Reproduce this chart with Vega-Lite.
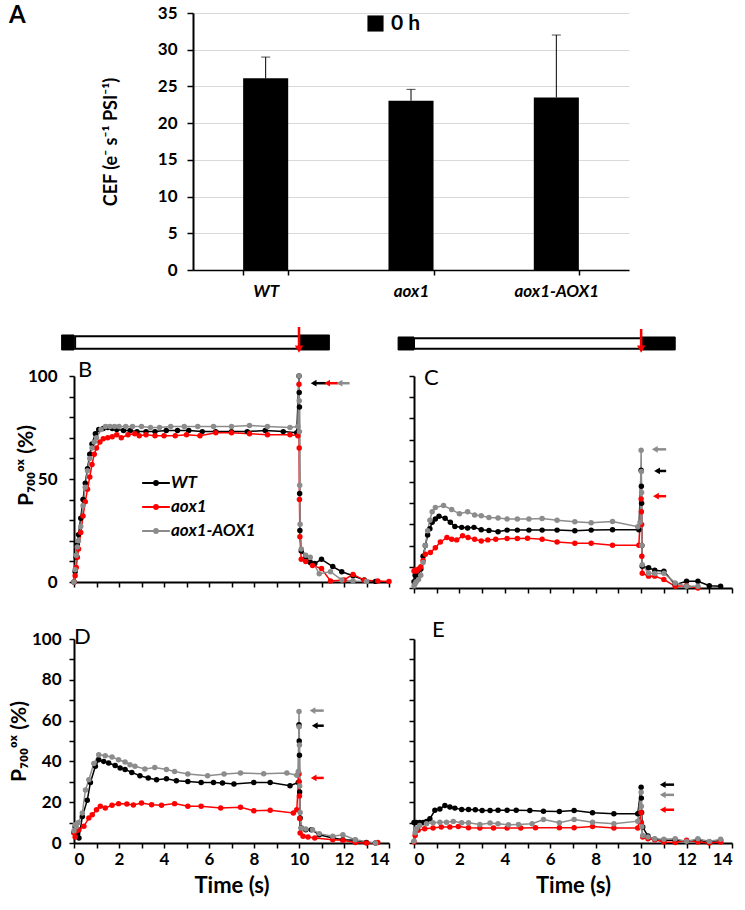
{
"$schema": "https://vega.github.io/schema/vega-lite/v6.json",
"padding": {"left": 8, "top": 4, "right": 5, "bottom": 5},
"background": "white",
"config": {
 "font": "Lato",
 "view": {"stroke": null},
 "axis": {"domainColor": "#000", "tickColor": "#000", "labelColor": "#000", "titleColor": "#000", "domainWidth": 2, "tickWidth": 1.5, "labelFont": "Lato", "titleFont": "Lato", "labelFontWeight": "bold", "titleFontWeight": "bold", "grid": false, "labelOverlap": false},
 "legend": {"labelFont": "Lato", "labelColor": "#000"},
 "title": {"font": "Lato", "color": "#000"}
},
"datasets": {
 "cef": [
  {"genotype": "WT", "cef": 26.1, "upper": 29.0, "time": "0 h"},
  {"genotype": "aox1", "cef": 23.05, "upper": 24.6, "time": "0 h"},
  {"genotype": "aox1-AOX1", "cef": 23.5, "upper": 32.0, "time": "0 h"}
 ],
 "stim": [
  {"panel": "B", "phase": "dark", "start": -0.55, "end": 0},
  {"panel": "B", "phase": "light", "start": 0.05, "end": 10},
  {"panel": "B", "phase": "dark", "start": 10, "end": 11.35},
  {"panel": "C", "phase": "dark", "start": -0.7, "end": 0},
  {"panel": "C", "phase": "light", "start": 0, "end": 10},
  {"panel": "C", "phase": "dark", "start": 10, "end": 11.5}
 ],
 "pulse": [{"panel": "B", "t": 10}, {"panel": "C", "t": 10}],
 "arrows": [
  {"panel": "B", "series": "WT", "t": 10.65, "t2": 11.2, "v": 96.5},
  {"panel": "B", "series": "aox1", "t": 11.25, "t2": 11.75, "v": 96.5},
  {"panel": "B", "series": "aox1-AOX1", "t": 11.8, "t2": 12.25, "v": 96.5},
  {"panel": "C", "series": "WT", "t": 10.7, "t2": 11.1, "v": 55.2},
  {"panel": "C", "series": "aox1", "t": 10.65, "t2": 11.1, "v": 43.3},
  {"panel": "C", "series": "aox1-AOX1", "t": 10.6, "t2": 11.1, "v": 65.4},
  {"panel": "D", "series": "WT", "t": 10.7, "t2": 11.1, "v": 57.5},
  {"panel": "D", "series": "aox1", "t": 10.65, "t2": 11.1, "v": 31.9},
  {"panel": "D", "series": "aox1-AOX1", "t": 10.6, "t2": 11.1, "v": 64.9},
  {"panel": "E", "series": "WT", "t": 10.95, "t2": 11.45, "v": 28.6},
  {"panel": "E", "series": "aox1", "t": 10.95, "t2": 11.45, "v": 16.3},
  {"panel": "E", "series": "aox1-AOX1", "t": 10.95, "t2": 11.45, "v": 23.6}
 ],
 "curves": [
  {"panel":"B","series":"WT","t":0,"v":0},{"panel":"B","series":"WT","t":0.05,"v":5},{"panel":"B","series":"WT","t":0.1,"v":12},{"panel":"B","series":"WT","t":0.15,"v":18},{"panel":"B","series":"WT","t":0.2,"v":23},{"panel":"B","series":"WT","t":0.3,"v":31},{"panel":"B","series":"WT","t":0.4,"v":40},{"panel":"B","series":"WT","t":0.5,"v":48},{"panel":"B","series":"WT","t":0.6,"v":55},{"panel":"B","series":"WT","t":0.7,"v":62},{"panel":"B","series":"WT","t":0.8,"v":67},{"panel":"B","series":"WT","t":0.95,"v":72},{"panel":"B","series":"WT","t":1.1,"v":74},{"panel":"B","series":"WT","t":1.3,"v":74.5},{"panel":"B","series":"WT","t":1.5,"v":75},{"panel":"B","series":"WT","t":1.7,"v":74.5},{"panel":"B","series":"WT","t":1.9,"v":74},{"panel":"B","series":"WT","t":2.2,"v":73.5},{"panel":"B","series":"WT","t":2.5,"v":73.5},{"panel":"B","series":"WT","t":2.8,"v":73},{"panel":"B","series":"WT","t":3.2,"v":73},{"panel":"B","series":"WT","t":3.6,"v":73},{"panel":"B","series":"WT","t":4.1,"v":73.5},{"panel":"B","series":"WT","t":4.6,"v":73.5},{"panel":"B","series":"WT","t":5.1,"v":73.5},{"panel":"B","series":"WT","t":5.7,"v":73},{"panel":"B","series":"WT","t":6.3,"v":73},{"panel":"B","series":"WT","t":7.0,"v":73},{"panel":"B","series":"WT","t":7.7,"v":73},{"panel":"B","series":"WT","t":8.5,"v":73.5},{"panel":"B","series":"WT","t":9.3,"v":73},{"panel":"B","series":"WT","t":9.9,"v":72.5},{"panel":"B","series":"WT","t":10.0,"v":100},{"panel":"B","series":"WT","t":10.01,"v":92},{"panel":"B","series":"WT","t":10.02,"v":85},{"panel":"B","series":"WT","t":10.03,"v":43},{"panel":"B","series":"WT","t":10.04,"v":25},{"panel":"B","series":"WT","t":10.1,"v":15},{"panel":"B","series":"WT","t":10.3,"v":12},{"panel":"B","series":"WT","t":10.5,"v":9.5},{"panel":"B","series":"WT","t":10.7,"v":9},{"panel":"B","series":"WT","t":11.0,"v":11},{"panel":"B","series":"WT","t":11.5,"v":7.5},{"panel":"B","series":"WT","t":11.9,"v":5},{"panel":"B","series":"WT","t":12.4,"v":3},{"panel":"B","series":"WT","t":12.9,"v":1},{"panel":"B","series":"WT","t":13.4,"v":0.3},
  {"panel":"B","series":"aox1","t":0,"v":0},{"panel":"B","series":"aox1","t":0.05,"v":3},{"panel":"B","series":"aox1","t":0.1,"v":7},{"panel":"B","series":"aox1","t":0.15,"v":12},{"panel":"B","series":"aox1","t":0.2,"v":16},{"panel":"B","series":"aox1","t":0.3,"v":24},{"panel":"B","series":"aox1","t":0.4,"v":32},{"panel":"B","series":"aox1","t":0.5,"v":39},{"panel":"B","series":"aox1","t":0.6,"v":45},{"panel":"B","series":"aox1","t":0.7,"v":51},{"panel":"B","series":"aox1","t":0.8,"v":57},{"panel":"B","series":"aox1","t":0.9,"v":62},{"panel":"B","series":"aox1","t":1.0,"v":65},{"panel":"B","series":"aox1","t":1.15,"v":68},{"panel":"B","series":"aox1","t":1.3,"v":69.5},{"panel":"B","series":"aox1","t":1.5,"v":70},{"panel":"B","series":"aox1","t":1.7,"v":70.5},{"panel":"B","series":"aox1","t":1.9,"v":71.5},{"panel":"B","series":"aox1","t":2.1,"v":70},{"panel":"B","series":"aox1","t":2.4,"v":71.5},{"panel":"B","series":"aox1","t":2.7,"v":72},{"panel":"B","series":"aox1","t":2.9,"v":71},{"panel":"B","series":"aox1","t":3.2,"v":71.5},{"panel":"B","series":"aox1","t":3.6,"v":71},{"panel":"B","series":"aox1","t":4.0,"v":71},{"panel":"B","series":"aox1","t":4.5,"v":71},{"panel":"B","series":"aox1","t":5.0,"v":71.5},{"panel":"B","series":"aox1","t":5.6,"v":71},{"panel":"B","series":"aox1","t":6.3,"v":72.5},{"panel":"B","series":"aox1","t":7.0,"v":72.5},{"panel":"B","series":"aox1","t":7.8,"v":72},{"panel":"B","series":"aox1","t":8.6,"v":71.5},{"panel":"B","series":"aox1","t":9.6,"v":71.5},{"panel":"B","series":"aox1","t":9.95,"v":71},{"panel":"B","series":"aox1","t":10.0,"v":96},{"panel":"B","series":"aox1","t":10.01,"v":65},{"panel":"B","series":"aox1","t":10.02,"v":40},{"panel":"B","series":"aox1","t":10.04,"v":22},{"panel":"B","series":"aox1","t":10.1,"v":11},{"panel":"B","series":"aox1","t":10.3,"v":10},{"panel":"B","series":"aox1","t":10.6,"v":8},{"panel":"B","series":"aox1","t":11.0,"v":6.5},{"panel":"B","series":"aox1","t":11.4,"v":0.5},{"panel":"B","series":"aox1","t":12.0,"v":1},{"panel":"B","series":"aox1","t":12.4,"v":3.7},{"panel":"B","series":"aox1","t":12.9,"v":0.8},{"panel":"B","series":"aox1","t":13.5,"v":0.5},{"panel":"B","series":"aox1","t":14.0,"v":0.3},
  {"panel":"B","series":"aox1-AOX1","t":0,"v":0},{"panel":"B","series":"aox1-AOX1","t":0.05,"v":6},{"panel":"B","series":"aox1-AOX1","t":0.1,"v":13},{"panel":"B","series":"aox1-AOX1","t":0.15,"v":17},{"panel":"B","series":"aox1-AOX1","t":0.2,"v":20},{"panel":"B","series":"aox1-AOX1","t":0.3,"v":27},{"panel":"B","series":"aox1-AOX1","t":0.4,"v":37},{"panel":"B","series":"aox1-AOX1","t":0.5,"v":46},{"panel":"B","series":"aox1-AOX1","t":0.6,"v":54},{"panel":"B","series":"aox1-AOX1","t":0.7,"v":60},{"panel":"B","series":"aox1-AOX1","t":0.8,"v":65},{"panel":"B","series":"aox1-AOX1","t":0.9,"v":68},{"panel":"B","series":"aox1-AOX1","t":1.0,"v":70},{"panel":"B","series":"aox1-AOX1","t":1.2,"v":74},{"panel":"B","series":"aox1-AOX1","t":1.4,"v":75.5},{"panel":"B","series":"aox1-AOX1","t":1.6,"v":75.5},{"panel":"B","series":"aox1-AOX1","t":1.8,"v":75.5},{"panel":"B","series":"aox1-AOX1","t":2.0,"v":75.5},{"panel":"B","series":"aox1-AOX1","t":2.3,"v":75.5},{"panel":"B","series":"aox1-AOX1","t":2.6,"v":75.5},{"panel":"B","series":"aox1-AOX1","t":3.0,"v":75.5},{"panel":"B","series":"aox1-AOX1","t":3.4,"v":75},{"panel":"B","series":"aox1-AOX1","t":3.8,"v":75},{"panel":"B","series":"aox1-AOX1","t":4.3,"v":75.5},{"panel":"B","series":"aox1-AOX1","t":4.9,"v":75.5},{"panel":"B","series":"aox1-AOX1","t":5.5,"v":75.5},{"panel":"B","series":"aox1-AOX1","t":6.2,"v":75.5},{"panel":"B","series":"aox1-AOX1","t":7.0,"v":75.5},{"panel":"B","series":"aox1-AOX1","t":7.8,"v":76},{"panel":"B","series":"aox1-AOX1","t":8.6,"v":75.5},{"panel":"B","series":"aox1-AOX1","t":9.6,"v":75},{"panel":"B","series":"aox1-AOX1","t":9.95,"v":75.5},{"panel":"B","series":"aox1-AOX1","t":10.0,"v":100},{"panel":"B","series":"aox1-AOX1","t":10.01,"v":88},{"panel":"B","series":"aox1-AOX1","t":10.02,"v":73},{"panel":"B","series":"aox1-AOX1","t":10.03,"v":47},{"panel":"B","series":"aox1-AOX1","t":10.05,"v":28},{"panel":"B","series":"aox1-AOX1","t":10.1,"v":16},{"panel":"B","series":"aox1-AOX1","t":10.3,"v":13},{"panel":"B","series":"aox1-AOX1","t":10.5,"v":12},{"panel":"B","series":"aox1-AOX1","t":10.9,"v":4},{"panel":"B","series":"aox1-AOX1","t":11.4,"v":5},{"panel":"B","series":"aox1-AOX1","t":11.9,"v":1},{"panel":"B","series":"aox1-AOX1","t":12.4,"v":0.5},{"panel":"B","series":"aox1-AOX1","t":13.0,"v":0.3},
  {"panel":"C","series":"WT","t":0,"v":3},{"panel":"C","series":"WT","t":0.05,"v":6},{"panel":"C","series":"WT","t":0.1,"v":4},{"panel":"C","series":"WT","t":0.2,"v":6},{"panel":"C","series":"WT","t":0.3,"v":9},{"panel":"C","series":"WT","t":0.4,"v":15},{"panel":"C","series":"WT","t":0.5,"v":20},{"panel":"C","series":"WT","t":0.6,"v":25},{"panel":"C","series":"WT","t":0.7,"v":28},{"panel":"C","series":"WT","t":0.8,"v":31},{"panel":"C","series":"WT","t":0.94,"v":32.5},{"panel":"C","series":"WT","t":1.1,"v":33.8},{"panel":"C","series":"WT","t":1.37,"v":32.9},{"panel":"C","series":"WT","t":1.6,"v":31},{"panel":"C","series":"WT","t":1.8,"v":29},{"panel":"C","series":"WT","t":2.1,"v":28.6},{"panel":"C","series":"WT","t":2.36,"v":28.3},{"panel":"C","series":"WT","t":2.64,"v":28.6},{"panel":"C","series":"WT","t":2.96,"v":27.5},{"panel":"C","series":"WT","t":3.3,"v":27.1},{"panel":"C","series":"WT","t":3.7,"v":26.5},{"panel":"C","series":"WT","t":4.1,"v":27.3},{"panel":"C","series":"WT","t":4.55,"v":27.3},{"panel":"C","series":"WT","t":5.06,"v":27.3},{"panel":"C","series":"WT","t":5.64,"v":27.3},{"panel":"C","series":"WT","t":6.3,"v":27.3},{"panel":"C","series":"WT","t":7.08,"v":27},{"panel":"C","series":"WT","t":7.8,"v":27.3},{"panel":"C","series":"WT","t":8.74,"v":27.5},{"panel":"C","series":"WT","t":9.9,"v":27.5},{"panel":"C","series":"WT","t":10.0,"v":55.5},{"panel":"C","series":"WT","t":10.01,"v":48},{"panel":"C","series":"WT","t":10.02,"v":40},{"panel":"C","series":"WT","t":10.03,"v":20},{"panel":"C","series":"WT","t":10.05,"v":10.3},{"panel":"C","series":"WT","t":10.33,"v":9.5},{"panel":"C","series":"WT","t":10.6,"v":8.4},{"panel":"C","series":"WT","t":11.0,"v":7.9},{"panel":"C","series":"WT","t":11.5,"v":1.6},{"panel":"C","series":"WT","t":12.0,"v":3.2},{"panel":"C","series":"WT","t":12.5,"v":3.2},{"panel":"C","series":"WT","t":13.0,"v":1.1},{"panel":"C","series":"WT","t":13.5,"v":0.8},
  {"panel":"C","series":"aox1","t":0,"v":8},{"panel":"C","series":"aox1","t":0.05,"v":8.5},{"panel":"C","series":"aox1","t":0.1,"v":8},{"panel":"C","series":"aox1","t":0.2,"v":9},{"panel":"C","series":"aox1","t":0.3,"v":10},{"panel":"C","series":"aox1","t":0.4,"v":13},{"panel":"C","series":"aox1","t":0.5,"v":15.9},{"panel":"C","series":"aox1","t":0.72,"v":16.7},{"panel":"C","series":"aox1","t":0.94,"v":19},{"panel":"C","series":"aox1","t":1.16,"v":21.7},{"panel":"C","series":"aox1","t":1.45,"v":23.8},{"panel":"C","series":"aox1","t":1.66,"v":23},{"panel":"C","series":"aox1","t":1.88,"v":22.7},{"panel":"C","series":"aox1","t":2.14,"v":24.6},{"panel":"C","series":"aox1","t":2.38,"v":23.8},{"panel":"C","series":"aox1","t":2.67,"v":23},{"panel":"C","series":"aox1","t":2.96,"v":22.2},{"panel":"C","series":"aox1","t":3.25,"v":22.7},{"panel":"C","series":"aox1","t":3.6,"v":23},{"panel":"C","series":"aox1","t":4.1,"v":23.3},{"panel":"C","series":"aox1","t":4.55,"v":23.3},{"panel":"C","series":"aox1","t":5.0,"v":23.5},{"panel":"C","series":"aox1","t":5.64,"v":23},{"panel":"C","series":"aox1","t":6.3,"v":21.7},{"panel":"C","series":"aox1","t":7.08,"v":21.1},{"panel":"C","series":"aox1","t":7.8,"v":21.1},{"panel":"C","series":"aox1","t":8.74,"v":20.2},{"panel":"C","series":"aox1","t":9.9,"v":20.2},{"panel":"C","series":"aox1","t":10.0,"v":42},{"panel":"C","series":"aox1","t":10.01,"v":36},{"panel":"C","series":"aox1","t":10.02,"v":30},{"panel":"C","series":"aox1","t":10.03,"v":15},{"panel":"C","series":"aox1","t":10.05,"v":7},{"panel":"C","series":"aox1","t":10.33,"v":5.6},{"panel":"C","series":"aox1","t":10.6,"v":5.6},{"panel":"C","series":"aox1","t":11.0,"v":4},{"panel":"C","series":"aox1","t":11.5,"v":0.8},{"panel":"C","series":"aox1","t":12.0,"v":1.1},{"panel":"C","series":"aox1","t":12.5,"v":0},
  {"panel":"C","series":"aox1-AOX1","t":0,"v":1},{"panel":"C","series":"aox1-AOX1","t":0.05,"v":2},{"panel":"C","series":"aox1-AOX1","t":0.1,"v":3},{"panel":"C","series":"aox1-AOX1","t":0.2,"v":4},{"panel":"C","series":"aox1-AOX1","t":0.3,"v":6},{"panel":"C","series":"aox1-AOX1","t":0.4,"v":12},{"panel":"C","series":"aox1-AOX1","t":0.5,"v":20},{"panel":"C","series":"aox1-AOX1","t":0.6,"v":27},{"panel":"C","series":"aox1-AOX1","t":0.7,"v":32},{"panel":"C","series":"aox1-AOX1","t":0.8,"v":36},{"panel":"C","series":"aox1-AOX1","t":0.94,"v":38},{"panel":"C","series":"aox1-AOX1","t":1.3,"v":38.9},{"panel":"C","series":"aox1-AOX1","t":1.66,"v":37},{"panel":"C","series":"aox1-AOX1","t":2.0,"v":35},{"panel":"C","series":"aox1-AOX1","t":2.36,"v":36},{"panel":"C","series":"aox1-AOX1","t":2.67,"v":34.4},{"panel":"C","series":"aox1-AOX1","t":2.96,"v":34.1},{"panel":"C","series":"aox1-AOX1","t":3.3,"v":33.3},{"panel":"C","series":"aox1-AOX1","t":3.7,"v":33},{"panel":"C","series":"aox1-AOX1","t":4.1,"v":32.5},{"panel":"C","series":"aox1-AOX1","t":4.55,"v":32.5},{"panel":"C","series":"aox1-AOX1","t":5.06,"v":32.5},{"panel":"C","series":"aox1-AOX1","t":5.64,"v":32.8},{"panel":"C","series":"aox1-AOX1","t":6.3,"v":32},{"panel":"C","series":"aox1-AOX1","t":7.08,"v":31.3},{"panel":"C","series":"aox1-AOX1","t":7.8,"v":30.8},{"panel":"C","series":"aox1-AOX1","t":8.74,"v":31.4},{"panel":"C","series":"aox1-AOX1","t":9.85,"v":28.9},{"panel":"C","series":"aox1-AOX1","t":9.95,"v":31},{"panel":"C","series":"aox1-AOX1","t":10.0,"v":65},{"panel":"C","series":"aox1-AOX1","t":10.01,"v":55},{"panel":"C","series":"aox1-AOX1","t":10.02,"v":45},{"panel":"C","series":"aox1-AOX1","t":10.03,"v":20},{"panel":"C","series":"aox1-AOX1","t":10.05,"v":11},{"panel":"C","series":"aox1-AOX1","t":10.33,"v":7},{"panel":"C","series":"aox1-AOX1","t":10.6,"v":6.8},{"panel":"C","series":"aox1-AOX1","t":11.0,"v":7},{"panel":"C","series":"aox1-AOX1","t":11.5,"v":2.4},{"panel":"C","series":"aox1-AOX1","t":12.0,"v":0.8},{"panel":"C","series":"aox1-AOX1","t":12.5,"v":0.8},
  {"panel":"D","series":"WT","t":0,"v":5},{"panel":"D","series":"WT","t":0.05,"v":8},{"panel":"D","series":"WT","t":0.1,"v":6},{"panel":"D","series":"WT","t":0.15,"v":4},{"panel":"D","series":"WT","t":0.22,"v":2.5},{"panel":"D","series":"WT","t":0.37,"v":13},{"panel":"D","series":"WT","t":0.59,"v":21},{"panel":"D","series":"WT","t":0.73,"v":29.7},{"panel":"D","series":"WT","t":0.95,"v":37.6},{"panel":"D","series":"WT","t":1.1,"v":40.8},{"panel":"D","series":"WT","t":1.32,"v":40},{"panel":"D","series":"WT","t":1.54,"v":39.2},{"panel":"D","series":"WT","t":1.83,"v":38},{"panel":"D","series":"WT","t":2.05,"v":36.8},{"panel":"D","series":"WT","t":2.27,"v":36},{"panel":"D","series":"WT","t":2.57,"v":34.6},{"panel":"D","series":"WT","t":2.93,"v":33},{"panel":"D","series":"WT","t":3.3,"v":31.9},{"panel":"D","series":"WT","t":3.67,"v":31},{"panel":"D","series":"WT","t":4.11,"v":31.5},{"panel":"D","series":"WT","t":4.55,"v":30.5},{"panel":"D","series":"WT","t":5.06,"v":30.2},{"panel":"D","series":"WT","t":5.65,"v":29.7},{"panel":"D","series":"WT","t":6.2,"v":29.7},{"panel":"D","series":"WT","t":6.6,"v":29.4},{"panel":"D","series":"WT","t":7.11,"v":28.9},{"panel":"D","series":"WT","t":7.99,"v":29.7},{"panel":"D","series":"WT","t":8.72,"v":29.7},{"panel":"D","series":"WT","t":9.6,"v":28.1},{"panel":"D","series":"WT","t":9.97,"v":29.7},{"panel":"D","series":"WT","t":10.0,"v":58},{"panel":"D","series":"WT","t":10.01,"v":50},{"panel":"D","series":"WT","t":10.02,"v":43},{"panel":"D","series":"WT","t":10.03,"v":25},{"panel":"D","series":"WT","t":10.05,"v":12.3},{"panel":"D","series":"WT","t":10.1,"v":7.4},{"panel":"D","series":"WT","t":10.3,"v":6.5},{"panel":"D","series":"WT","t":10.55,"v":6.5},{"panel":"D","series":"WT","t":10.9,"v":4},{"panel":"D","series":"WT","t":11.5,"v":2.5},{"panel":"D","series":"WT","t":11.95,"v":1.6},{"panel":"D","series":"WT","t":12.5,"v":1.3},{"panel":"D","series":"WT","t":13.0,"v":0.3},{"panel":"D","series":"WT","t":13.4,"v":0},
  {"panel":"D","series":"aox1","t":0,"v":5},{"panel":"D","series":"aox1","t":0.05,"v":3},{"panel":"D","series":"aox1","t":0.1,"v":6},{"panel":"D","series":"aox1","t":0.22,"v":6.5},{"panel":"D","series":"aox1","t":0.44,"v":8.2},{"panel":"D","series":"aox1","t":0.66,"v":12.3},{"panel":"D","series":"aox1","t":0.81,"v":13.9},{"panel":"D","series":"aox1","t":1.0,"v":16.3},{"panel":"D","series":"aox1","t":1.17,"v":18},{"panel":"D","series":"aox1","t":1.39,"v":17.2},{"panel":"D","series":"aox1","t":1.69,"v":18.5},{"panel":"D","series":"aox1","t":1.98,"v":19.3},{"panel":"D","series":"aox1","t":2.35,"v":19.1},{"panel":"D","series":"aox1","t":2.64,"v":18.6},{"panel":"D","series":"aox1","t":3.0,"v":19.6},{"panel":"D","series":"aox1","t":3.45,"v":18.8},{"panel":"D","series":"aox1","t":3.89,"v":18.5},{"panel":"D","series":"aox1","t":4.47,"v":19.3},{"panel":"D","series":"aox1","t":5.06,"v":18},{"panel":"D","series":"aox1","t":5.65,"v":18},{"panel":"D","series":"aox1","t":6.52,"v":17.2},{"panel":"D","series":"aox1","t":7.4,"v":17.5},{"panel":"D","series":"aox1","t":7.99,"v":15.8},{"panel":"D","series":"aox1","t":8.72,"v":16},{"panel":"D","series":"aox1","t":9.75,"v":14.7},{"panel":"D","series":"aox1","t":9.9,"v":16.3},{"panel":"D","series":"aox1","t":10.0,"v":34},{"panel":"D","series":"aox1","t":10.01,"v":30},{"panel":"D","series":"aox1","t":10.02,"v":23},{"panel":"D","series":"aox1","t":10.03,"v":12},{"panel":"D","series":"aox1","t":10.05,"v":4.9},{"panel":"D","series":"aox1","t":10.18,"v":3.3},{"panel":"D","series":"aox1","t":10.4,"v":2.9},{"panel":"D","series":"aox1","t":10.7,"v":2.5},{"panel":"D","series":"aox1","t":11.5,"v":1.6},{"panel":"D","series":"aox1","t":11.95,"v":1.3},{"panel":"D","series":"aox1","t":12.5,"v":0.3},{"panel":"D","series":"aox1","t":13.0,"v":0},{"panel":"D","series":"aox1","t":13.5,"v":0.3},
  {"panel":"D","series":"aox1-AOX1","t":0,"v":6},{"panel":"D","series":"aox1-AOX1","t":0.05,"v":9},{"panel":"D","series":"aox1-AOX1","t":0.1,"v":8},{"panel":"D","series":"aox1-AOX1","t":0.2,"v":10},{"panel":"D","series":"aox1-AOX1","t":0.37,"v":14.7},{"panel":"D","series":"aox1-AOX1","t":0.51,"v":26},{"panel":"D","series":"aox1-AOX1","t":0.66,"v":31},{"panel":"D","series":"aox1-AOX1","t":0.88,"v":39},{"panel":"D","series":"aox1-AOX1","t":1.1,"v":43.3},{"panel":"D","series":"aox1-AOX1","t":1.39,"v":42.8},{"panel":"D","series":"aox1-AOX1","t":1.69,"v":42.2},{"panel":"D","series":"aox1-AOX1","t":1.98,"v":40.8},{"panel":"D","series":"aox1-AOX1","t":2.27,"v":39.7},{"panel":"D","series":"aox1-AOX1","t":2.49,"v":38.4},{"panel":"D","series":"aox1-AOX1","t":2.71,"v":37.6},{"panel":"D","series":"aox1-AOX1","t":3.15,"v":36.3},{"panel":"D","series":"aox1-AOX1","t":3.59,"v":37},{"panel":"D","series":"aox1-AOX1","t":4.11,"v":36},{"panel":"D","series":"aox1-AOX1","t":4.47,"v":35},{"panel":"D","series":"aox1-AOX1","t":5.06,"v":33.8},{"panel":"D","series":"aox1-AOX1","t":5.94,"v":33},{"panel":"D","series":"aox1-AOX1","t":6.67,"v":33.8},{"panel":"D","series":"aox1-AOX1","t":7.4,"v":34.3},{"panel":"D","series":"aox1-AOX1","t":8.43,"v":34},{"panel":"D","series":"aox1-AOX1","t":9.46,"v":34.3},{"panel":"D","series":"aox1-AOX1","t":9.9,"v":33.2},{"panel":"D","series":"aox1-AOX1","t":9.97,"v":35},{"panel":"D","series":"aox1-AOX1","t":10.0,"v":64.5},{"panel":"D","series":"aox1-AOX1","t":10.01,"v":57},{"panel":"D","series":"aox1-AOX1","t":10.02,"v":48},{"panel":"D","series":"aox1-AOX1","t":10.03,"v":28},{"panel":"D","series":"aox1-AOX1","t":10.05,"v":15},{"panel":"D","series":"aox1-AOX1","t":10.1,"v":7.4},{"panel":"D","series":"aox1-AOX1","t":10.3,"v":6.9},{"panel":"D","series":"aox1-AOX1","t":10.6,"v":6.5},{"panel":"D","series":"aox1-AOX1","t":10.9,"v":4.6},{"panel":"D","series":"aox1-AOX1","t":11.5,"v":3.3},{"panel":"D","series":"aox1-AOX1","t":11.95,"v":4},{"panel":"D","series":"aox1-AOX1","t":12.5,"v":1.6},{"panel":"D","series":"aox1-AOX1","t":13.4,"v":0},
  {"panel":"E","series":"WT","t":0,"v":10},{"panel":"E","series":"WT","t":0.1,"v":10},{"panel":"E","series":"WT","t":0.25,"v":10},{"panel":"E","series":"WT","t":0.4,"v":10},{"panel":"E","series":"WT","t":0.55,"v":10.5},{"panel":"E","series":"WT","t":0.7,"v":11.9},{"panel":"E","series":"WT","t":0.92,"v":16},{"panel":"E","series":"WT","t":1.14,"v":16.7},{"panel":"E","series":"WT","t":1.36,"v":18.4},{"panel":"E","series":"WT","t":1.58,"v":17.6},{"panel":"E","series":"WT","t":1.8,"v":17.1},{"panel":"E","series":"WT","t":2.1,"v":16.4},{"panel":"E","series":"WT","t":2.4,"v":16.4},{"panel":"E","series":"WT","t":2.7,"v":16.3},{"panel":"E","series":"WT","t":3.0,"v":15.9},{"panel":"E","series":"WT","t":3.35,"v":15.9},{"panel":"E","series":"WT","t":3.7,"v":16},{"panel":"E","series":"WT","t":4.1,"v":16.1},{"panel":"E","series":"WT","t":4.5,"v":16.1},{"panel":"E","series":"WT","t":5.1,"v":15.9},{"panel":"E","series":"WT","t":5.7,"v":15.6},{"panel":"E","series":"WT","t":6.4,"v":15.4},{"panel":"E","series":"WT","t":7.05,"v":15.9},{"panel":"E","series":"WT","t":7.86,"v":14.8},{"panel":"E","series":"WT","t":8.8,"v":14.3},{"panel":"E","series":"WT","t":9.85,"v":14.3},{"panel":"E","series":"WT","t":10.0,"v":27.3},{"panel":"E","series":"WT","t":10.01,"v":22},{"panel":"E","series":"WT","t":10.02,"v":15},{"panel":"E","series":"WT","t":10.07,"v":7.8},{"panel":"E","series":"WT","t":10.3,"v":3.4},{"panel":"E","series":"WT","t":10.6,"v":1.8},{"panel":"E","series":"WT","t":11.0,"v":1.3},{"panel":"E","series":"WT","t":11.5,"v":1.3},{"panel":"E","series":"WT","t":12.0,"v":0.8},{"panel":"E","series":"WT","t":12.5,"v":1.3},{"panel":"E","series":"WT","t":13.0,"v":0.5},{"panel":"E","series":"WT","t":13.5,"v":1.3},
  {"panel":"E","series":"aox1","t":0,"v":0.5},{"panel":"E","series":"aox1","t":0.05,"v":3.7},{"panel":"E","series":"aox1","t":0.18,"v":6.2},{"panel":"E","series":"aox1","t":0.47,"v":7},{"panel":"E","series":"aox1","t":0.84,"v":7.3},{"panel":"E","series":"aox1","t":1.2,"v":7.8},{"panel":"E","series":"aox1","t":1.58,"v":7.8},{"panel":"E","series":"aox1","t":1.95,"v":8.1},{"panel":"E","series":"aox1","t":2.4,"v":7.5},{"panel":"E","series":"aox1","t":2.9,"v":7.3},{"panel":"E","series":"aox1","t":3.5,"v":7.3},{"panel":"E","series":"aox1","t":4.1,"v":7.3},{"panel":"E","series":"aox1","t":4.7,"v":7.3},{"panel":"E","series":"aox1","t":5.35,"v":7.5},{"panel":"E","series":"aox1","t":6.4,"v":7.5},{"panel":"E","series":"aox1","t":7.05,"v":7.5},{"panel":"E","series":"aox1","t":7.86,"v":8.1},{"panel":"E","series":"aox1","t":8.8,"v":7.3},{"panel":"E","series":"aox1","t":9.85,"v":7.3},{"panel":"E","series":"aox1","t":10.0,"v":15},{"panel":"E","series":"aox1","t":10.01,"v":10},{"panel":"E","series":"aox1","t":10.07,"v":2.9},{"panel":"E","series":"aox1","t":10.3,"v":2.1},{"panel":"E","series":"aox1","t":10.6,"v":1.6},{"panel":"E","series":"aox1","t":11.0,"v":0.5},{"panel":"E","series":"aox1","t":11.5,"v":0.2},{"panel":"E","series":"aox1","t":12.0,"v":1.3},{"panel":"E","series":"aox1","t":12.5,"v":0.5},{"panel":"E","series":"aox1","t":13.0,"v":0},{"panel":"E","series":"aox1","t":13.5,"v":0.5},
  {"panel":"E","series":"aox1-AOX1","t":0,"v":1},{"panel":"E","series":"aox1-AOX1","t":0.05,"v":5},{"panel":"E","series":"aox1-AOX1","t":0.1,"v":7},{"panel":"E","series":"aox1-AOX1","t":0.25,"v":8.6},{"panel":"E","series":"aox1-AOX1","t":0.55,"v":9.4},{"panel":"E","series":"aox1-AOX1","t":0.84,"v":9.9},{"panel":"E","series":"aox1-AOX1","t":1.14,"v":10.2},{"panel":"E","series":"aox1-AOX1","t":1.43,"v":10.2},{"panel":"E","series":"aox1-AOX1","t":1.73,"v":10.6},{"panel":"E","series":"aox1-AOX1","t":2.1,"v":9.9},{"panel":"E","series":"aox1-AOX1","t":2.4,"v":9.9},{"panel":"E","series":"aox1-AOX1","t":2.9,"v":9.1},{"panel":"E","series":"aox1-AOX1","t":3.35,"v":9.8},{"panel":"E","series":"aox1-AOX1","t":3.7,"v":9.4},{"panel":"E","series":"aox1-AOX1","t":4.16,"v":8.9},{"panel":"E","series":"aox1-AOX1","t":4.6,"v":9.1},{"panel":"E","series":"aox1-AOX1","t":5.2,"v":9.4},{"panel":"E","series":"aox1-AOX1","t":5.7,"v":11.5},{"panel":"E","series":"aox1-AOX1","t":6.4,"v":9.9},{"panel":"E","series":"aox1-AOX1","t":7.05,"v":11.5},{"panel":"E","series":"aox1-AOX1","t":7.86,"v":10.2},{"panel":"E","series":"aox1-AOX1","t":8.8,"v":9.4},{"panel":"E","series":"aox1-AOX1","t":9.85,"v":10.7},{"panel":"E","series":"aox1-AOX1","t":10.0,"v":24.9},{"panel":"E","series":"aox1-AOX1","t":10.01,"v":18},{"panel":"E","series":"aox1-AOX1","t":10.03,"v":8},{"panel":"E","series":"aox1-AOX1","t":10.07,"v":3.7},{"panel":"E","series":"aox1-AOX1","t":10.3,"v":2.9},{"panel":"E","series":"aox1-AOX1","t":10.6,"v":2.1},{"panel":"E","series":"aox1-AOX1","t":11.0,"v":1.8},{"panel":"E","series":"aox1-AOX1","t":11.5,"v":2.1},{"panel":"E","series":"aox1-AOX1","t":12.0,"v":0.8},{"panel":"E","series":"aox1-AOX1","t":12.5,"v":2.1},{"panel":"E","series":"aox1-AOX1","t":13.0,"v":0.8},{"panel":"E","series":"aox1-AOX1","t":13.5,"v":1.8}
 ]
},
"spacing": 26,
"resolve": {"scale": {"color": "independent"}, "legend": {"color": "independent"}},
"vconcat": [
 {
  "bounds": "flush",
  "spacing": 25,
  "resolve": {"scale": {"color": "independent"}, "legend": {"color": "independent"}},
  "hconcat": [
   {"width": 94, "height": 257, "data": {"values": [{}]}, "mark": {"type": "text", "text": ""}},
   {
    "width": 436, "height": 257,
    "title": {"text": "A", "anchor": "start", "frame": "group", "orient": "top", "offset": 0, "dx": -184, "dy": 24, "fontSize": 24, "fontWeight": "bold"},
    "data": {"name": "cef"},
    "encoding": {
     "x": {"field": "genotype", "type": "nominal", "sort": null, "title": null,
       "scale": {"paddingInner": 0.69, "paddingOuter": 0.345},
       "axis": {"labelAngle": 0, "labelFontStyle": "italic", "labelFontWeight": "bold", "labelFontSize": 17, "tickBand": "extent", "tickSize": 5, "labelPadding": 8, "domainWidth": 1.5}}
    },
    "layer": [
     {"mark": {"type": "bar"},
      "encoding": {
       "y": {"field": "cef", "type": "quantitative", "title": "CEF (e⁻ s⁻¹ PSI⁻¹)", "scale": {"domain": [0, 35], "nice": false},
         "axis": {"values": [0, 5, 10, 15, 20, 25, 30, 35], "grid": true, "gridColor": "#d9d9d9", "gridWidth": 1, "tickSize": 6, "labelPadding": 10, "labelFontSize": 17, "titleFontSize": 18, "titlePadding": 37, "domainWidth": 2}},
       "color": {"field": "time", "type": "nominal", "scale": {"range": ["#000000"]},
         "legend": {"title": null, "orient": "none", "legendX": 172, "legendY": 0, "symbolType": "square", "symbolSize": 260, "symbolStrokeWidth": 0, "labelFontSize": 21, "labelFontWeight": "bold", "labelOffset": 5}}
      }},
     {"mark": {"type": "rule", "color": "#000", "strokeWidth": 1},
      "encoding": {"y": {"field": "cef", "type": "quantitative", "title": "CEF (e⁻ s⁻¹ PSI⁻¹)",
         "axis": {"values": [0, 5, 10, 15, 20, 25, 30, 35], "grid": true, "gridColor": "#d9d9d9", "gridWidth": 1, "tickSize": 6, "labelPadding": 10, "labelFontSize": 17, "titleFontSize": 18, "titlePadding": 37, "domainWidth": 2}},
       "y2": {"field": "upper"}}},
     {"mark": {"type": "tick", "color": "#000", "thickness": 1, "size": 9},
      "encoding": {"y": {"field": "upper", "type": "quantitative", "title": "CEF (e⁻ s⁻¹ PSI⁻¹)",
         "axis": {"values": [0, 5, 10, 15, 20, 25, 30, 35], "grid": true, "gridColor": "#d9d9d9", "gridWidth": 1, "tickSize": 6, "labelPadding": 10, "labelFontSize": 17, "titleFontSize": 18, "titlePadding": 37, "domainWidth": 2}}}}
    ]
   }
  ]
 },
 {
  "columns": 2,
  "bounds": "flush",
  "spacing": {"row": 0, "column": 25},
  "resolve": {"scale": {"color": "independent"}, "legend": {"color": "independent"}},
  "concat": [
   {
    "width": 315, "height": 49,
    "encoding": {
     "x": {"field": "start", "type": "quantitative", "scale": {"domain": [0, 14], "nice": false}, "axis": null}
    },
    "layer": [
     {"data": {"name": "stim"}, "transform": [{"filter": "datum.panel === 'B' && datum.phase === 'dark'"}],
      "mark": {"type": "rect", "color": "#000", "stroke": "#000", "strokeWidth": 1},
      "encoding": {"x2": {"field": "end"}, "y": {"datum": 0.531, "type": "quantitative", "scale": {"domain": [0, 1]}, "axis": null}, "y2": {"datum": 0.837}}},
     {"data": {"name": "stim"}, "transform": [{"filter": "datum.panel === 'B' && datum.phase === 'light'"}],
      "mark": {"type": "rect", "fill": "#fff", "stroke": "#000", "strokeWidth": 2},
      "encoding": {"x2": {"field": "end"}, "y": {"datum": 0.555, "type": "quantitative"}, "y2": {"datum": 0.813}}},
     {"data": {"name": "pulse"}, "transform": [{"filter": "datum.panel === 'B'"}],
      "mark": {"type": "rule", "color": "#ff0000", "strokeWidth": 2.5},
      "encoding": {"x": {"field": "t", "type": "quantitative"}, "y": {"datum": 0.56, "type": "quantitative"}, "y2": {"datum": 1.0}}},
     {"data": {"name": "pulse"}, "transform": [{"filter": "datum.panel === 'B'"}],
      "mark": {"type": "point", "shape": "triangle-down", "filled": true, "color": "#ff0000", "size": 70, "opacity": 1},
      "encoding": {"x": {"field": "t", "type": "quantitative"}, "y": {"datum": 0.55, "type": "quantitative"}}}
    ]
   },
   {
    "width": 318, "height": 49,
    "encoding": {
     "x": {"field": "start", "type": "quantitative", "scale": {"domain": [0, 14], "nice": false}, "axis": null}
    },
    "layer": [
     {"data": {"name": "stim"}, "transform": [{"filter": "datum.panel === 'C' && datum.phase === 'dark'"}],
      "mark": {"type": "rect", "color": "#000", "stroke": "#000", "strokeWidth": 1},
      "encoding": {"x2": {"field": "end"}, "y": {"datum": 0.531, "type": "quantitative", "scale": {"domain": [0, 1]}, "axis": null}, "y2": {"datum": 0.796}}},
     {"data": {"name": "stim"}, "transform": [{"filter": "datum.panel === 'C' && datum.phase === 'light'"}],
      "mark": {"type": "rect", "fill": "#fff", "stroke": "#000", "strokeWidth": 2},
      "encoding": {"x2": {"field": "end"}, "y": {"datum": 0.555, "type": "quantitative"}, "y2": {"datum": 0.772}}},
     {"data": {"name": "pulse"}, "transform": [{"filter": "datum.panel === 'C'"}],
      "mark": {"type": "rule", "color": "#ff0000", "strokeWidth": 2.5},
      "encoding": {"x": {"field": "t", "type": "quantitative"}, "y": {"datum": 0.56, "type": "quantitative"}, "y2": {"datum": 0.96}}},
     {"data": {"name": "pulse"}, "transform": [{"filter": "datum.panel === 'C'"}],
      "mark": {"type": "point", "shape": "triangle-down", "filled": true, "color": "#ff0000", "size": 70, "opacity": 1},
      "encoding": {"x": {"field": "t", "type": "quantitative"}, "y": {"datum": 0.55, "type": "quantitative"}}}
    ]
   },
   {
    "width": 315, "height": 206,
    "title": {"text": "B", "anchor": "start", "frame": "group", "orient": "top", "offset": 0, "dx": 4, "dy": 15, "fontSize": 22, "fontWeight": "normal"},
    "encoding": {
     "x": {"field": "t", "type": "quantitative", "scale": {"domain": [0, 14], "nice": false},
       "axis": {"values": [0,1,2,3,4,5,6,7,8,9,10,11,12,13,14], "labels": false, "title": null, "tickSize": 5}},
     "y": {"field": "v", "type": "quantitative", "scale": {"domain": [0, 100], "nice": false},
       "axis": {"values": [0,10,20,30,40,50,60,70,80,90,100], "labelExpr": "datum.value % 50 === 0 ? datum.label : ''", "tickSize": 5, "labelPadding": 12, "labelFontSize": 17, "title": "P₇₀₀ᵒˣ (%)", "titleFontSize": 21, "titleX": -42, "titleY": 89, "titleBaseline": "alphabetic"}},
     "color": {"field": "series", "type": "nominal", "scale": {"domain": ["WT", "aox1", "aox1-AOX1"], "range": ["#000000", "#ff0000", "#8c8c8c"]},
       "legend": {"title": null, "orient": "none", "legendX": 72, "legendY": 97, "symbolType": "M-1.6,0L1.6,0M0.22,0A0.22,0.22,0,1,1,-0.22,0A0.22,0.22,0,1,1,0.22,0ZM0.1,0A0.1,0.1,0,1,1,-0.1,0A0.1,0.1,0,1,1,0.1,0Z", "symbolSize": 300, "symbolStrokeWidth": 2, "labelFontSize": 17, "labelFontWeight": "bold", "labelFontStyle": "italic", "labelOffset": 5, "rowPadding": 6}}
    },
    "layer": [
     {"data": {"name": "curves"}, "transform": [{"filter": "datum.panel === 'B'"}], "mark": {"type": "line", "strokeWidth": 1.5}},
     {"data": {"name": "curves"}, "transform": [{"filter": "datum.panel === 'B'"}], "mark": {"type": "point", "filled": true, "size": 30, "opacity": 1}},
     {"data": {"name": "arrows"}, "transform": [{"filter": "datum.panel === 'B'"}], "mark": {"type": "rule", "strokeWidth": 2.5}, "encoding": {"x2": {"field": "t2"}}},
     {"data": {"name": "arrows"}, "transform": [{"filter": "datum.panel === 'B'"}], "mark": {"type": "point", "shape": "triangle-left", "filled": true, "size": 45, "opacity": 1}}
    ]
   },
   {
    "width": 318, "height": 212,
    "title": {"text": "C", "anchor": "start", "frame": "group", "orient": "top", "offset": 0, "dx": 10, "dy": 15, "fontSize": 22, "fontWeight": "normal"},
    "encoding": {
     "x": {"field": "t", "type": "quantitative", "scale": {"domain": [0, 14], "nice": false},
       "axis": {"values": [0,1,2,3,4,5,6,7,8,9,10,11,12,13,14], "labels": false, "title": null, "tickSize": 5}},
     "y": {"field": "v", "type": "quantitative", "scale": {"domain": [0, 100], "nice": false},
       "axis": {"values": [0,10,20,30,40,50,60,70,80,90,100], "labels": false, "tickSize": 5, "title": null}},
     "color": {"field": "series", "type": "nominal", "scale": {"domain": ["WT", "aox1", "aox1-AOX1"], "range": ["#000000", "#ff0000", "#8c8c8c"]}, "legend": null}
    },
    "layer": [
     {"data": {"name": "curves"}, "transform": [{"filter": "datum.panel === 'C'"}], "mark": {"type": "line", "strokeWidth": 1.5}},
     {"data": {"name": "curves"}, "transform": [{"filter": "datum.panel === 'C'"}], "mark": {"type": "point", "filled": true, "size": 30, "opacity": 1}},
     {"data": {"name": "arrows"}, "transform": [{"filter": "datum.panel === 'C'"}], "mark": {"type": "rule", "strokeWidth": 2.5}, "encoding": {"x2": {"field": "t2"}}},
     {"data": {"name": "arrows"}, "transform": [{"filter": "datum.panel === 'C'"}], "mark": {"type": "point", "shape": "triangle-left", "filled": true, "size": 45, "opacity": 1}}
    ]
   },
   {"width": 315, "height": 51, "data": {"values": [{}]}, "mark": {"type": "text", "text": ""}},
   {"width": 318, "height": 51, "data": {"values": [{}]}, "mark": {"type": "text", "text": ""}},
   {
    "width": 315, "height": 204,
    "title": {"text": "D", "anchor": "start", "frame": "group", "orient": "top", "offset": 0, "dx": 0, "dy": 19, "fontSize": 22, "fontWeight": "normal"},
    "encoding": {
     "x": {"field": "t", "type": "quantitative", "scale": {"domain": [0, 14], "nice": false},
       "axis": {"values": [0,1,2,3,4,5,6,7,8,9,10,11,12,13,14], "labelExpr": "datum.value % 2 === 0 ? datum.label : ''", "labelFontSize": 17, "labelPadding": 3, "tickSize": 5, "title": "Time (s)", "titleFontSize": 22, "titlePadding": 8}},
     "y": {"field": "v", "type": "quantitative", "scale": {"domain": [0, 100], "nice": false},
       "axis": {"values": [0,10,20,30,40,50,60,70,80,90,100], "labelExpr": "datum.value % 20 === 0 ? datum.label : ''", "tickSize": 5, "labelPadding": 8, "labelFontSize": 17, "title": "P₇₀₀ᵒˣ (%)", "titleFontSize": 21, "titleX": -49, "titleBaseline": "alphabetic"}},
     "color": {"field": "series", "type": "nominal", "scale": {"domain": ["WT", "aox1", "aox1-AOX1"], "range": ["#000000", "#ff0000", "#8c8c8c"]}, "legend": null}
    },
    "layer": [
     {"data": {"name": "curves"}, "transform": [{"filter": "datum.panel === 'D'"}], "mark": {"type": "line", "strokeWidth": 1.5}},
     {"data": {"name": "curves"}, "transform": [{"filter": "datum.panel === 'D'"}], "mark": {"type": "point", "filled": true, "size": 30, "opacity": 1}},
     {"data": {"name": "arrows"}, "transform": [{"filter": "datum.panel === 'D'"}], "mark": {"type": "rule", "strokeWidth": 2.5}, "encoding": {"x2": {"field": "t2"}}},
     {"data": {"name": "arrows"}, "transform": [{"filter": "datum.panel === 'D'"}], "mark": {"type": "point", "shape": "triangle-left", "filled": true, "size": 45, "opacity": 1}}
    ]
   },
   {
    "width": 318, "height": 204,
    "title": {"text": "E", "anchor": "start", "frame": "group", "orient": "top", "offset": 0, "dx": 18, "dy": 4, "fontSize": 22, "fontWeight": "normal"},
    "encoding": {
     "x": {"field": "t", "type": "quantitative", "scale": {"domain": [0, 14], "nice": false},
       "axis": {"values": [0,1,2,3,4,5,6,7,8,9,10,11,12,13,14], "labelExpr": "datum.value % 2 === 0 ? datum.label : ''", "labelFontSize": 17, "labelPadding": 3, "tickSize": 5, "title": "Time (s)", "titleFontSize": 22, "titlePadding": 8}},
     "y": {"field": "v", "type": "quantitative", "scale": {"domain": [0, 100], "nice": false},
       "axis": {"values": [0,10,20,30,40,50,60,70,80,90,100], "labels": false, "tickSize": 5, "title": null}},
     "color": {"field": "series", "type": "nominal", "scale": {"domain": ["WT", "aox1", "aox1-AOX1"], "range": ["#000000", "#ff0000", "#8c8c8c"]}, "legend": null}
    },
    "layer": [
     {"data": {"name": "curves"}, "transform": [{"filter": "datum.panel === 'E'"}], "mark": {"type": "line", "strokeWidth": 1.5}},
     {"data": {"name": "curves"}, "transform": [{"filter": "datum.panel === 'E'"}], "mark": {"type": "point", "filled": true, "size": 30, "opacity": 1}},
     {"data": {"name": "arrows"}, "transform": [{"filter": "datum.panel === 'E'"}], "mark": {"type": "rule", "strokeWidth": 2.5}, "encoding": {"x2": {"field": "t2"}}},
     {"data": {"name": "arrows"}, "transform": [{"filter": "datum.panel === 'E'"}], "mark": {"type": "point", "shape": "triangle-left", "filled": true, "size": 45, "opacity": 1}}
    ]
   }
  ]
 }
]
}
